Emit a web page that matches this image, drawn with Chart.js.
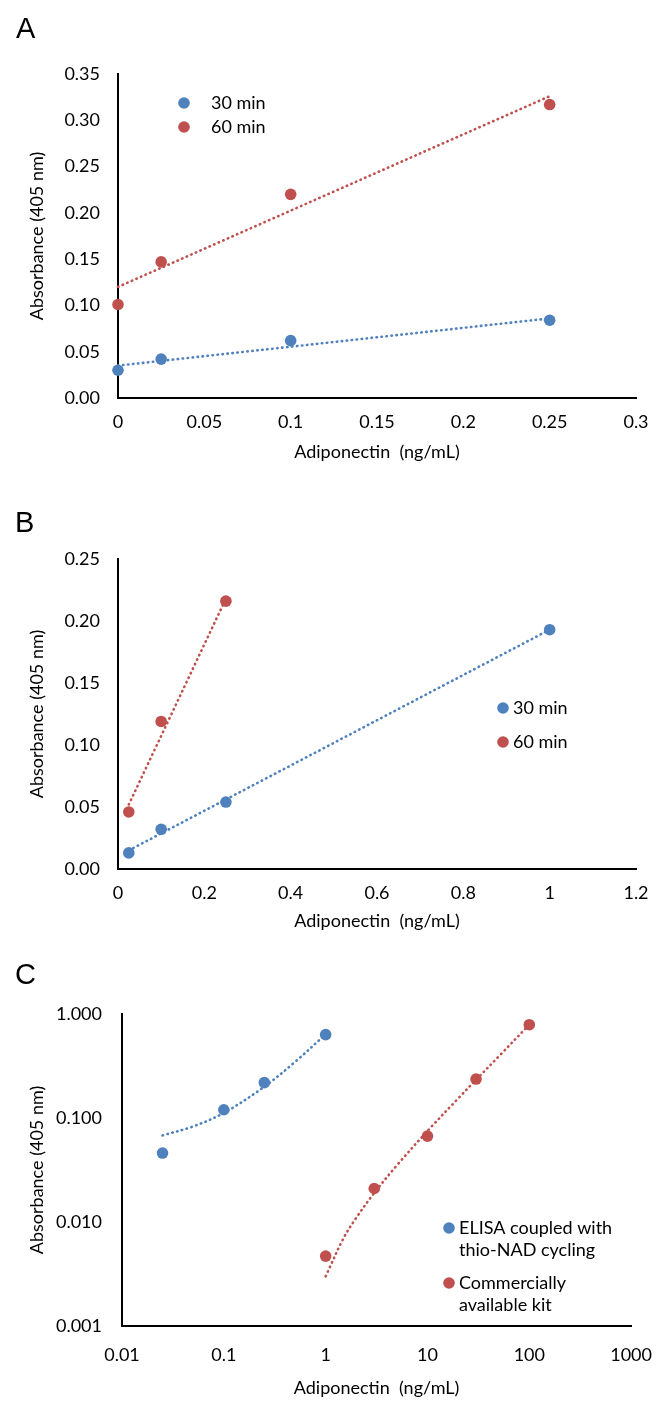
<!DOCTYPE html>
<html>
<head>
<meta charset="utf-8">
<script src="https://cdn.jsdelivr.net/npm/chart.js@4.4.1/dist/chart.umd.min.js"></script>
<style>
  body { margin: 0; background: #fff; }
  #page { position: relative; width: 670px; height: 1402px; }
  .panel { position: absolute; left: 0; width: 670px; }
  .letter { position: absolute; font-family: "Liberation Sans", Arial, sans-serif; font-size: 29px; line-height: 1; color: #000; }
</style>
</head>
<body>
<div id="page">
  <div class="panel" style="top:0px;height:470px"><canvas id="chartA" width="670" height="470"></canvas></div>
  <div class="panel" style="top:470px;height:465px"><canvas id="chartB" width="670" height="465"></canvas></div>
  <div class="panel" style="top:935px;height:467px"><canvas id="chartC" width="670" height="467"></canvas></div>
  <div class="letter" style="left:16px;top:14px">A</div>
  <div class="letter" style="left:15px;top:508px">B</div>
  <div class="letter" style="left:15px;top:960px">C</div>
</div>
<script>
// panel A: 30 / 60 min, low range
var aX = [0, 0.025, 0.1, 0.25];
var a30 = [0.030, 0.042, 0.062, 0.084];
var a60 = [0.101, 0.147, 0.220, 0.317];
var aTrendX = [0, 0.25];
var a30Trend = [0.035, 0.086];
var a60Trend = [0.120, 0.326];
var aXTicks = [0, 0.05, 0.1, 0.15, 0.2, 0.25, 0.3];
var aYTicks = [0, 0.05, 0.1, 0.15, 0.2, 0.25, 0.3, 0.35];

// panel B: 30 / 60 min, wider range
var b30X = [0.025, 0.1, 0.25, 1];
var b30 = [0.013, 0.032, 0.054, 0.193];
var b60X = [0.025, 0.1, 0.25];
var b60 = [0.046, 0.119, 0.216];
var b30TrendX = [0.025, 1];
var b30Trend = [0.015, 0.193];
var b60TrendX = [0.025, 0.25];
var b60Trend = [0.052, 0.218];
var bXTicks = [0, 0.2, 0.4, 0.6, 0.8, 1, 1.2];
var bYTicks = [0, 0.05, 0.1, 0.15, 0.2, 0.25];

// panel C: thio-NAD cycling vs commercial kit (log-log)
var cElisaX = [0.025, 0.1, 0.25, 1];
var cElisa = [0.046, 0.120, 0.219, 0.633];
var cKitX = [1, 3, 10, 30, 100];
var cKit = [0.0047, 0.021, 0.067, 0.237, 0.789];
var cElisaTrendX = [0.025, 0.05, 0.1, 0.25, 0.5, 1];
var cElisaTrend = [0.068, 0.083, 0.112, 0.200, 0.346, 0.638];
var cKitTrendX = [1, 1.5, 2, 3, 5, 10, 20, 30, 50, 100];
var cKitTrend = [0.003, 0.007, 0.011, 0.019, 0.035, 0.075, 0.154, 0.233, 0.39, 0.79];
var cXTicks = [0.01, 0.1, 1, 10, 100, 1000];
var cYTicks = [0.001, 0.01, 0.1, 1];

var BLUE = "#4F81BD";
var RED = "#C0504D";

Chart.defaults.font.family = "Lato, 'Open Sans', sans-serif";
Chart.defaults.font.size = 18;
Chart.defaults.color = "#000";

function pts(xs, ys) {
    return xs.map(function(x, i) { return {x: x, y: ys[i]}; });
}

function pointSet(label, xs, ys, color) {
    return {
        label: label,
        data: pts(xs, ys),
        backgroundColor: color,
        borderColor: color,
        pointRadius: 5.8,
        pointHoverRadius: 5.8,
        pointBorderWidth: 0,
        showLine: false,
        clip: false
    };
}

function trendSet(xs, ys, color, curved) {
    return {
        isTrend: true,
        data: pts(xs, ys),
        borderColor: color,
        borderWidth: 2.6,
        borderDash: [0.5, 4.5],
        borderCapStyle: "round",
        pointRadius: 0,
        showLine: true,
        tension: curved ? 0.35 : 0,
        clip: false
    };
}

// draws the little dot legends where the original has them
var pointLegend = {
    id: "pointLegend",
    afterDatasetsDraw: function(chart, args, opts) {
        var ctx = chart.ctx;
        var items = chart.data.datasets.filter(function(d) { return !d.isTrend; });
        ctx.save();
        ctx.font = "18px Lato";
        ctx.textBaseline = "middle";
        ctx.textAlign = "left";
        items.forEach(function(ds, i) {
            var y = opts.rows[i];
            ctx.beginPath();
            ctx.fillStyle = ds.backgroundColor;
            ctx.arc(opts.markerX, y, 5.8, 0, Math.PI * 2);
            ctx.fill();
            ctx.fillStyle = "#000";
            var lines = [].concat(ds.legendText || ds.label);
            lines.forEach(function(line, j) {
                ctx.fillText(line, opts.textX, y + j * opts.lineGap);
            });
        });
        ctx.restore();
    }
};

function fixedTicks(values) {
    return function(scale) {
        scale.ticks = values.map(function(v) { return {value: v}; });
    };
}

function makeChart(id, datasets, o) {
    var ctx = document.getElementById(id).getContext("2d");
    return new Chart(ctx, {
        type: "scatter",
        data: {datasets: datasets},
        plugins: [pointLegend],
        options: {
            responsive: false,
            animation: false,
            events: [],
            layout: {padding: {top: o.padTop, right: o.padRight, bottom: o.padBottom, left: 0}},
            plugins: {
                legend: {display: false},
                tooltip: {enabled: false},
                pointLegend: o.legend
            },
            scales: {
                x: {
                    type: o.xType,
                    min: o.xMin,
                    max: o.xMax,
                    afterBuildTicks: fixedTicks(o.xTicks),
                    afterFit: function(scale) { scale.height = o.xHeight; },
                    grid: {drawOnChartArea: false, drawTicks: false},
                    border: {display: true, color: "#000", width: 2},
                    ticks: {
                        autoSkip: false, maxRotation: 0, padding: o.xPad,
                        callback: function(v) { return String(v); }
                    },
                    title: {display: true, text: "Adiponectin  (ng/mL)", padding: {top: 0, bottom: 0}}
                },
                y: {
                    type: o.yType,
                    min: o.yMin,
                    max: o.yMax,
                    afterBuildTicks: fixedTicks(o.yTicks),
                    afterFit: function(scale) { scale.width = o.yWidth; },
                    grid: {drawOnChartArea: false, drawTicks: false},
                    border: {display: true, color: "#000", width: 2},
                    ticks: {
                        autoSkip: false, padding: o.yPad,
                        callback: function(v) { return Number(v).toFixed(o.yDigits); }
                    },
                    title: {display: true, text: "Absorbance (405 nm)", padding: {top: 26, bottom: 0}}
                }
            }
        }
    });
}

makeChart("chartA", [
    trendSet(aTrendX, a30Trend, BLUE, false),
    trendSet(aTrendX, a60Trend, RED, false),
    pointSet("30 min", aX, a30, BLUE),
    pointSet("60 min", aX, a60, RED)
], {
    padTop: 74, padRight: 34, padBottom: 7, xHeight: 65, xPad: 13, yWidth: 118, yPad: 18,
    xType: "linear", xMin: 0, xMax: 0.3, xTicks: aXTicks,
    yType: "linear", yMin: 0, yMax: 0.35, yTicks: aYTicks, yDigits: 2,
    legend: {markerX: 184, textX: 211, rows: [103, 127], lineGap: 22}
});

makeChart("chartB", [
    trendSet(b30TrendX, b30Trend, BLUE, false),
    trendSet(b60TrendX, b60Trend, RED, false),
    pointSet("30 min", b30X, b30, BLUE),
    pointSet("60 min", b60X, b60, RED)
], {
    padTop: 89, padRight: 34, padBottom: 3, xHeight: 63, xPad: 13, yWidth: 118, yPad: 18,
    xType: "linear", xMin: 0, xMax: 1.2, xTicks: bXTicks,
    yType: "linear", yMin: 0, yMax: 0.25, yTicks: bYTicks, yDigits: 2,
    legend: {markerX: 503, textX: 513, rows: [238, 272], lineGap: 22}
});

var elisa = pointSet("ELISA coupled with thio-NAD cycling", cElisaX, cElisa, BLUE);
elisa.legendText = ["ELISA coupled with", "thio-NAD cycling"];
var kit = pointSet("Commercially available kit", cKitX, cKit, RED);
kit.legendText = ["Commercially", "available kit"];

makeChart("chartC", [
    trendSet(cElisaTrendX, cElisaTrend, BLUE, true),
    trendSet(cKitTrendX, cKitTrend, RED, true),
    elisa,
    kit
], {
    padTop: 79, padRight: 30, padBottom: 3, xHeight: 73, xPad: 18, yWidth: 122, yPad: 20,
    xType: "logarithmic", xMin: 0.01, xMax: 1000, xTicks: cXTicks,
    yType: "logarithmic", yMin: 0.001, yMax: 1, yTicks: cYTicks, yDigits: 3,
    legend: {markerX: 449, textX: 459, rows: [293, 348], lineGap: 22}
});
</script>
</body>
</html>
